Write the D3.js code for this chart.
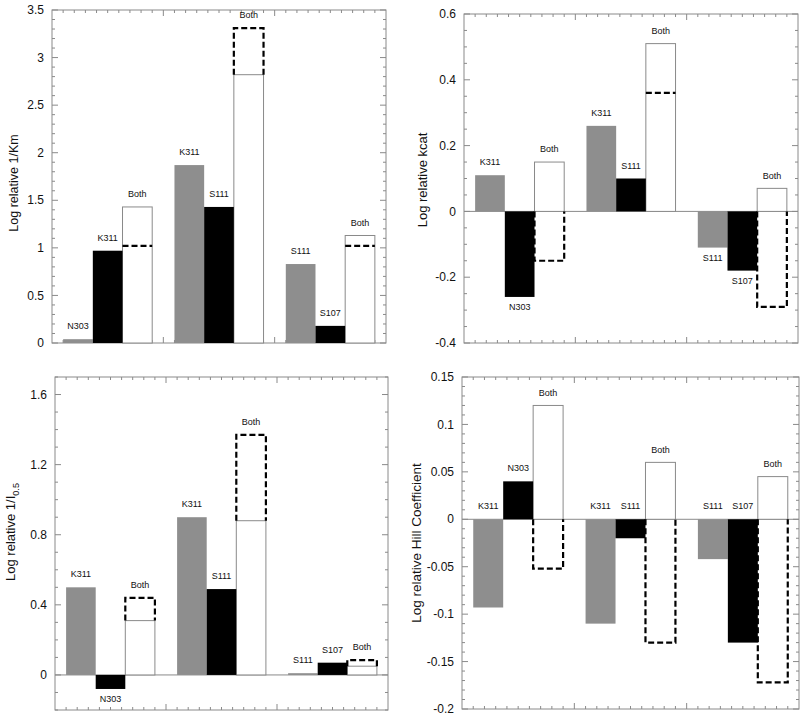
<!DOCTYPE html>
<html><head><meta charset="utf-8">
<script src="https://cdn.jsdelivr.net/npm/d3@7"></script>
<style>
body{margin:0;background:#fff}
svg{display:block}
text{font-family:"Liberation Sans",Arial,Helvetica,sans-serif}
</style>
</head><body>
<svg id="chart" width="800" height="717"></svg>
<script>
// ---------- data ----------
const groups = ["G1", "G2", "G3"];
const bothLabel = "Both";

// Panel A: Log relative 1/Km
const kmGrayLabels  = ["N303", "K311", "S111"];
const kmBlackLabels = ["K311", "S111", "S107"];
const kmGray     = [0.04, 1.87, 0.83];
const kmBlack    = [0.97, 1.43, 0.18];
const kmBoth     = [1.43, 2.82, 1.13];
const kmExpected = [1.02, 3.31, 1.02];
const kmTicks      = [0, 0.5, 1, 1.5, 2, 2.5, 3, 3.5];
const kmTickLabels = ["0", "0.5", "1", "1.5", "2", "2.5", "3", "3.5"];

// Panel B: Log relative kcat
const kcatGrayLabels  = ["K311", "K311", "S111"];
const kcatBlackLabels = ["N303", "S111", "S107"];
const kcatGray     = [0.11, 0.26, -0.11];
const kcatBlack    = [-0.26, 0.10, -0.18];
const kcatBoth     = [0.15, 0.51, 0.07];
const kcatExpected = [-0.15, 0.36, -0.29];
const kcatTicks      = [-0.4, -0.2, 0, 0.2, 0.4, 0.6];
const kcatTickLabels = ["-0.4", "-0.2", "0", "0.2", "0.4", "0.6"];

// Panel C: Log relative 1/I0.5
const iGrayLabels  = ["K311", "K311", "S111"];
const iBlackLabels = ["N303", "S111", "S107"];
const iGray     = [0.50, 0.90, 0.01];
const iBlack    = [-0.08, 0.49, 0.07];
const iBoth     = [0.31, 0.88, 0.05];
const iExpected = [0.44, 1.37, 0.085];
const iTicks      = [0, 0.4, 0.8, 1.2, 1.6];
const iTickLabels = ["0", "0.4", "0.8", "1.2", "1.6"];

// Panel D: Log relative Hill Coefficient
const hillGrayLabels  = ["K311", "K311", "S111"];
const hillBlackLabels = ["N303", "S111", "S107"];
const hillGray     = [-0.093, -0.11, -0.042];
const hillBlack    = [0.04, -0.02, -0.13];
const hillBoth     = [0.12, 0.06, 0.045];
const hillExpected = [-0.052, -0.13, -0.172];
const hillTicks      = [-0.2, -0.15, -0.1, -0.05, 0, 0.05, 0.1, 0.15];
const hillTickLabels = ["-0.2", "-0.15", "-0.1", "-0.05", "0", "0.05", "0.1", "0.15"];

// ---------- panel configuration ----------
const panels = [
  {box:{l:52, r:386, t:10, b:343}, domain:[0, 3.5], minor:0.1,
   ticks:kmTicks, tickLabels:kmTickLabels, gray:kmGray, black:kmBlack, both:kmBoth, expected:kmExpected,
   grayLabels:kmGrayLabels, blackLabels:kmBlackLabels, title:"Log relative 1/Km", sub:null,
   titleX:14, titleY:183, titleSize:12.5, negAtZero:false},
  {box:{l:464, r:798, t:14, b:343}, domain:[-0.4, 0.6], minor:0.05,
   ticks:kcatTicks, tickLabels:kcatTickLabels, gray:kcatGray, black:kcatBlack, both:kcatBoth, expected:kcatExpected,
   grayLabels:kcatGrayLabels, blackLabels:kcatBlackLabels, title:"Log relative kcat", sub:null,
   titleX:422, titleY:180, titleSize:13, negAtZero:false},
  {box:{l:55, r:388, t:377, b:710}, domain:[-0.2, 1.7], minor:0.1,
   ticks:iTicks, tickLabels:iTickLabels, gray:iGray, black:iBlack, both:iBoth, expected:iExpected,
   grayLabels:iGrayLabels, blackLabels:iBlackLabels, title:"Log relative 1/I", sub:"0.5",
   titleX:10, titleY:532, titleSize:13, negAtZero:false},
  {box:{l:462, r:799, t:377, b:709}, domain:[-0.2, 0.15], minor:0.01,
   ticks:hillTicks, tickLabels:hillTickLabels, gray:hillGray, black:hillBlack, both:hillBoth, expected:hillExpected,
   grayLabels:hillGrayLabels, blackLabels:hillBlackLabels, title:"Log relative Hill Coefficient", sub:null,
   titleX:416, titleY:543, titleSize:13.5, negAtZero:true}
];

const FRAME = "#8a8a8a";
const GRAY = "#8e8e8e";
const svg = d3.select("#chart");

panels.forEach(p => {
  const {l, r, t, b} = p.box;
  const g = svg.append("g");
  const y = d3.scaleLinear().domain(p.domain).range([b, t]);
  const xTick = d3.scaleLinear().domain([0, 30]).range([l, r]);
  const xGroup = d3.scaleBand().domain(groups).range([l, r]).paddingInner(0.2).paddingOuter(0.1);
  const xSeries = d3.scaleBand().domain(["gray", "black", "both"]).range([0, xGroup.bandwidth()]);

  // frame
  g.append("rect").attr("x", l).attr("y", t).attr("width", r - l).attr("height", b - t)
    .attr("fill", "none").attr("stroke", FRAME).attr("stroke-width", 1);

  // y ticks (both sides, inward)
  const eps = 1e-9;
  const minorVals = d3.range(p.domain[0], p.domain[1] + eps, p.minor);
  const isMajor = v => p.ticks.some(tv => Math.abs(tv - v) < p.minor / 10);
  minorVals.forEach(v => {
    const len = isMajor(v) ? 6 : 3;
    const yy = y(v);
    g.append("line").attr("x1", l).attr("x2", l + len).attr("y1", yy).attr("y2", yy)
      .attr("stroke", FRAME).attr("stroke-width", 1);
    g.append("line").attr("x1", r).attr("x2", r - len).attr("y1", yy).attr("y2", yy)
      .attr("stroke", FRAME).attr("stroke-width", 1);
  });
  // x ticks (bottom and top, inward)
  d3.range(1, 30).forEach(v => {
    const len = (v % 10 === 0) ? 6 : 3;
    const xx = xTick(v);
    g.append("line").attr("x1", xx).attr("x2", xx).attr("y1", b).attr("y2", b - len)
      .attr("stroke", FRAME).attr("stroke-width", 1);
    g.append("line").attr("x1", xx).attr("x2", xx).attr("y1", t).attr("y2", t + len)
      .attr("stroke", FRAME).attr("stroke-width", 1);
  });

  // zero line
  if (p.domain[0] < 0) {
    g.append("line").attr("x1", l).attr("x2", r).attr("y1", y(0)).attr("y2", y(0))
      .attr("stroke", FRAME).attr("stroke-width", 1);
  }

  const rectFor = (v) => ({y: Math.min(y(0), y(v)), h: Math.abs(y(v) - y(0))});

  // white "Both" bars
  groups.forEach((gr, i) => {
    const x0 = xGroup(gr) + xSeries("both");
    const rr = rectFor(p.both[i]);
    g.append("rect").attr("x", x0).attr("y", rr.y).attr("width", xSeries.bandwidth()).attr("height", rr.h)
      .attr("fill", "#fff").attr("stroke", FRAME).attr("stroke-width", 1);
  });

  // dashed expected outlines
  groups.forEach((gr, i) => {
    const x0 = xGroup(gr) + xSeries("both");
    const x1 = x0 + xSeries.bandwidth();
    const w = p.both[i], e = p.expected[i];
    let d;
    if (Math.sign(w) === Math.sign(e) && Math.abs(e) <= Math.abs(w)) {
      d = `M${x0},${y(e)}H${x1}`;
    } else {
      const base = Math.sign(w) === Math.sign(e) ? w : 0;
      d = `M${x0},${y(base)}V${y(e)}H${x1}V${y(base)}`;
    }
    g.append("path").attr("d", d).attr("fill", "none").attr("stroke", "#000")
      .attr("stroke-width", 2.2).attr("stroke-dasharray", "6,3");
  });

  // gray and black bars
  groups.forEach((gr, i) => {
    [["gray", p.gray[i], GRAY], ["black", p.black[i], "#000"]].forEach(([s, v, c]) => {
      const rr = rectFor(v);
      g.append("rect").attr("x", xGroup(gr) + xSeries(s)).attr("y", rr.y)
        .attr("width", xSeries.bandwidth()).attr("height", rr.h).attr("fill", c);
    });
  });

  // bar labels
  groups.forEach((gr, i) => {
    const items = [
      ["gray", p.gray[i], p.grayLabels[i]],
      ["black", p.black[i], p.blackLabels[i]],
      ["both", Math.max(p.both[i], p.expected[i], 0), bothLabel]
    ];
    items.forEach(([s, v, txt]) => {
      const cx = xGroup(gr) + xSeries(s) + xSeries.bandwidth() / 2;
      let cy;
      if (v >= 0) cy = y(v) - 13;
      else if (p.negAtZero) cy = y(0) - 13;
      else cy = y(v) + 10;
      g.append("text").attr("x", cx).attr("y", cy).attr("dy", "0.35em")
        .attr("text-anchor", "middle").attr("font-size", 9).attr("fill", "#111").text(txt);
    });
  });

  // tick labels
  p.ticks.forEach((v, i) => {
    g.append("text").attr("x", l - 8).attr("y", y(v)).attr("dy", "0.35em")
      .attr("text-anchor", "end").attr("font-size", 12).attr("fill", "#111").text(p.tickLabels[i]);
  });

  // axis title
  const tt = g.append("text")
    .attr("transform", `translate(${p.titleX},${p.titleY}) rotate(-90)`)
    .attr("text-anchor", "middle").attr("dy", "0.35em")
    .attr("font-size", p.titleSize).attr("fill", "#111");
  tt.append("tspan").text(p.title);
  if (p.sub) {
    tt.append("tspan").attr("dy", "0.45em").attr("font-size", p.titleSize * 0.7).text(p.sub);
  }
});
</script>
</body></html>
